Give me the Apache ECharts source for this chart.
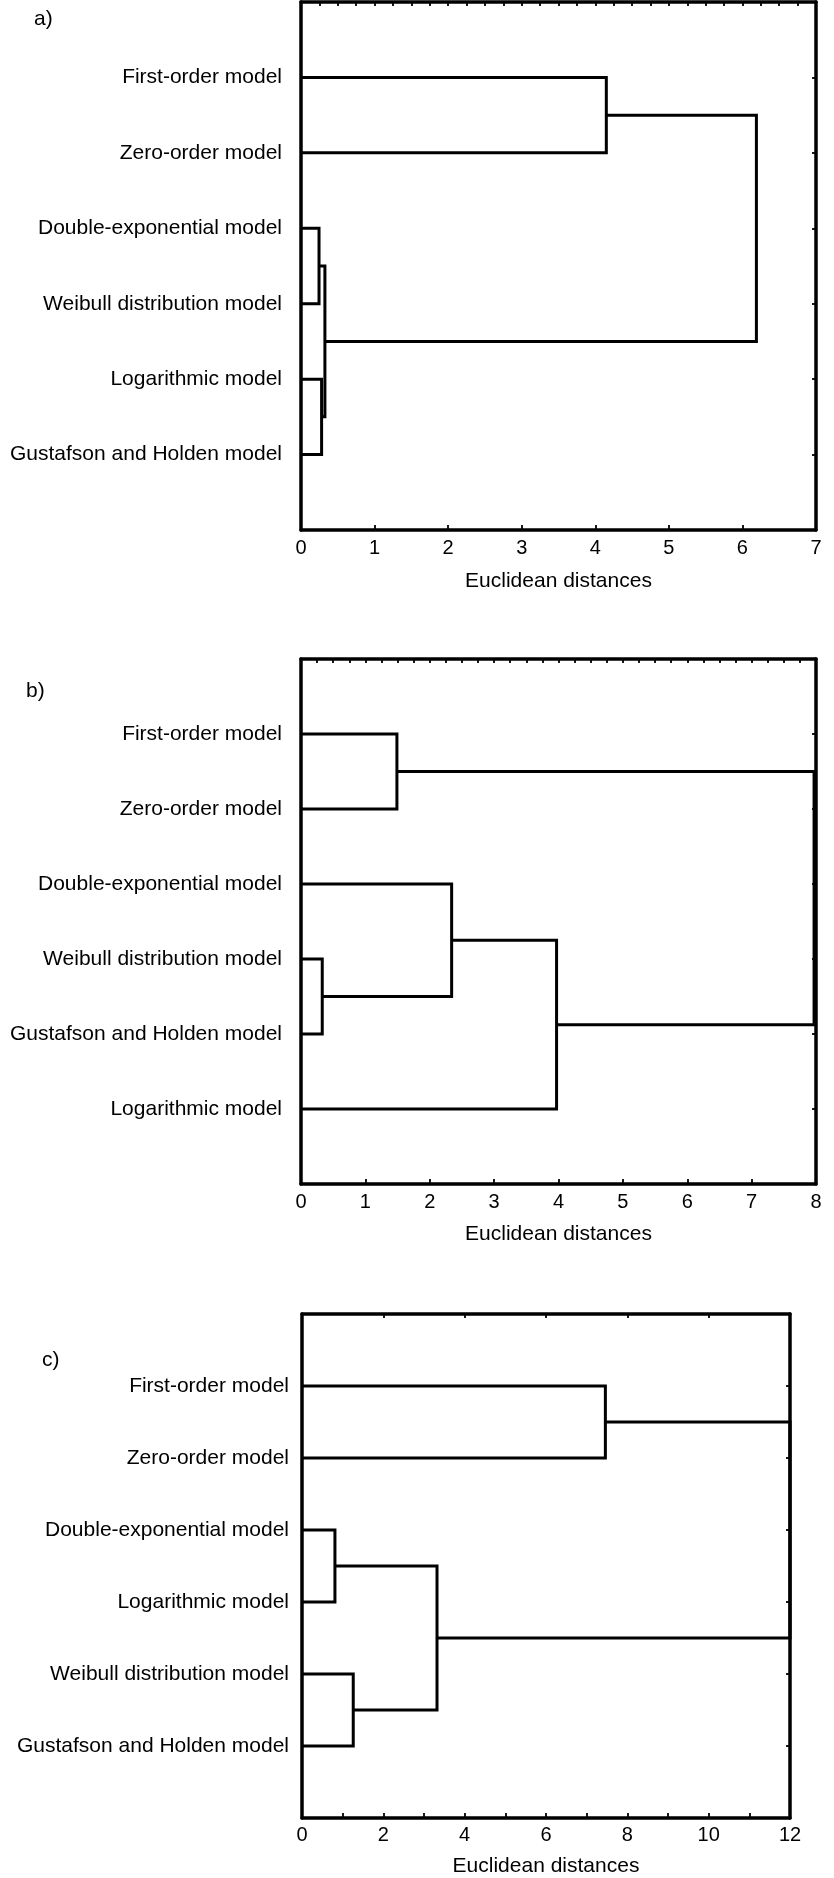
<!DOCTYPE html>
<html><head><meta charset="utf-8">
<script src="https://cdn.jsdelivr.net/npm/echarts@6/dist/echarts.min.js"></script>
<style>html,body{margin:0;padding:0;background:#fff}#c{width:834px;height:1878px}</style>
</head><body><div id="c"></div>
<script>
// ---- data ----
const labelsA = ['First-order model','Zero-order model','Double-exponential model','Weibull distribution model','Logarithmic model','Gustafson and Holden model'];
// merges: [clusterA, clusterB, distance]; leaves 0..5, new clusters numbered from 6
const mergesA = [[0,1,4.15],[2,3,0.245],[4,5,0.28],[7,8,0.325],[6,9,6.19]];
const ticksA = [0,1,2,3,4,5,6,7];

const labelsB = ['First-order model','Zero-order model','Double-exponential model','Weibull distribution model','Gustafson and Holden model','Logarithmic model'];
const mergesB = [[0,1,1.49],[3,4,0.33],[2,7,2.34],[5,8,3.97],[6,9,7.97]];
const ticksB = [0,1,2,3,4,5,6,7,8];

const labelsC = ['First-order model','Zero-order model','Double-exponential model','Logarithmic model','Weibull distribution model','Gustafson and Holden model'];
const mergesC = [[0,1,7.46],[2,3,0.81],[4,5,1.26],[7,8,3.32],[6,9,12]];
const ticksC = [0,2,4,6,8,10,12];

const axisTitle = 'Euclidean distances';
const panelTags = ['a)','b)','c)'];

// ---- layout ----
const FONT = 'Liberation Sans, Arial, Helvetica, sans-serif';
const panels = [
  {labels:labelsA, merges:mergesA, ticks:ticksA, grid:{left:301, top:2, width:515, height:528}, tickStep:1, topStep:0.25, labMargin:8, nameGap:41, labelMargin:19, tag:{left:34, top:9}},
  {labels:labelsB, merges:mergesB, ticks:ticksB, grid:{left:301, top:659, width:515, height:525}, tickStep:1, topStep:0.25, labMargin:8, nameGap:40, labelMargin:19, tag:{left:26, top:681}},
  {labels:labelsC, merges:mergesC, ticks:ticksC, grid:{left:302, top:1314, width:488, height:508}, tickStep:1, topStep:2, labMargin:7, nameGap:38, labelMargin:13, tag:{left:42, top:1350}}
];

function buildLinks(n, merges){
  const y = [], x = [];
  for (let i = 0; i < n; i++){ y.push(i + 1); x.push(0); }
  const out = [];
  merges.forEach(m => {
    const a = m[0], b = m[1], h = m[2];
    out.push([h, y[a], y[b], x[a], x[b]]);
    y.push((y[a] + y[b]) / 2); x.push(h);
  });
  return out;
}

const grid = [], xAxis = [], yAxis = [], series = [], graphic = [];
panels.forEach((p, i) => {
  const n = p.labels.length;
  const xMax = p.ticks[p.ticks.length - 1];
  grid.push(Object.assign({containLabel:false}, p.grid));
  const lineStyle = {color:'#000', width:3.5};
  xAxis.push({
    gridIndex:i, type:'value', position:'bottom', min:0, max:xMax, interval:p.tickStep,
    axisLine:{show:true, onZero:false, lineStyle},
    axisTick:{show:true, inside:true, length:5, lineStyle:{color:'#000', width:1.8}},
    axisLabel:{show:true, color:'#000', fontSize:20, fontFamily:FONT, margin:p.labMargin,
      formatter: v => (p.ticks.indexOf(v) >= 0 ? String(v) : '')},
    splitLine:{show:false},
    name:axisTitle, nameLocation:'middle', nameGap:p.nameGap,
    nameTextStyle:{color:'#000', fontSize:21, fontFamily:FONT}
  });
  xAxis.push({
    gridIndex:i, type:'value', position:'top', min:0, max:xMax, interval:p.topStep,
    axisLine:{show:true, onZero:false, lineStyle},
    axisTick:{show:true, inside:true, length:4, lineStyle:{color:'#000', width:1.8}},
    axisLabel:{show:false}, splitLine:{show:false}
  });
  yAxis.push({
    gridIndex:i, type:'value', position:'left', min:0, max:n + 1, interval:1, inverse:true,
    axisLine:{show:true, onZero:false, lineStyle},
    axisTick:{show:false},
    axisLabel:{show:true, color:'#000', fontSize:21, fontFamily:FONT, margin:p.labelMargin,
      formatter: v => (p.labels[v - 1] || '')},
    splitLine:{show:false}
  });
  yAxis.push({
    gridIndex:i, type:'value', position:'right', min:0, max:n + 1, interval:1, inverse:true,
    axisLine:{show:true, onZero:false, lineStyle},
    axisTick:{show:true, inside:true, length:4, lineStyle:{color:'#000', width:1.8}},
    axisLabel:{show:false}, splitLine:{show:false}
  });
  series.push({
    type:'custom', xAxisIndex:2 * i, yAxisIndex:2 * i, clip:false, silent:true,
    data: buildLinks(n, p.merges),
    encode:{x:[0, 3, 4], y:[1, 2]},
    renderItem:(params, api) => {
      const h = api.value(0), ya = api.value(1), yb = api.value(2), xa = api.value(3), xb = api.value(4);
      const pts = [api.coord([xa, ya]), api.coord([h, ya]), api.coord([h, yb]), api.coord([xb, yb])];
      return {type:'polyline', shape:{points:pts}, style:{stroke:'#000', lineWidth:3, fill:null}};
    }
  });
  graphic.push({type:'text', left:p.tag.left, top:p.tag.top, style:{text:panelTags[i], fill:'#000', font:'21px ' + FONT}});
});

const chart = echarts.init(document.getElementById('c'), null, {renderer:'canvas'});
chart.setOption({animation:false, backgroundColor:'#fff', grid, xAxis, yAxis, series, graphic});
</script>
</body></html>
